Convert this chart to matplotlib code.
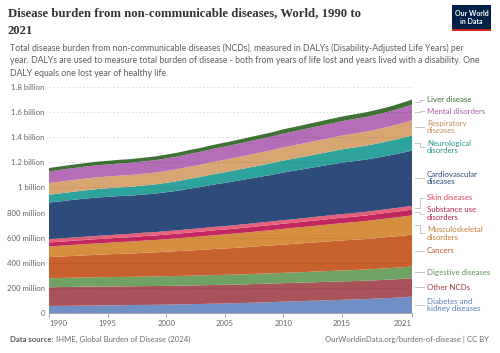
import matplotlib
matplotlib.use("Agg")
import matplotlib.pyplot as plt
from matplotlib.patches import Rectangle
import numpy as np

years = list(range(1990, 2022))

series_names = ["Diabetes and\nkidney diseases", "Other NCDs", "Digestive diseases", "Cancers",
                "Musculoskeletal\ndisorders", "Substance use\ndisorders", "Skin diseases",
                "Cardiovascular\ndiseases", "Neurological\ndisorders", "Respiratory\ndiseases",
                "Mental disorders", "Liver disease"]

# values in billions of DALYs
diabetes = [0.056,0.057,0.058,0.059,0.060,0.061,0.062,0.063,0.064,0.065,0.066,
            0.068,0.070,0.072,0.074,0.076,0.078,0.081,0.084,0.087,0.090,
            0.093,0.096,0.099,0.102,0.105,0.108,0.111,0.115,0.119,0.124,0.130]
other_ncds = [0.149,0.150,0.150,0.151,0.151,0.151,0.150,0.150,0.150,0.150,0.150,
              0.150,0.149,0.149,0.149,0.149,0.148,0.148,0.148,0.148,0.148,
              0.147,0.147,0.147,0.147,0.147,0.146,0.146,0.146,0.147,0.147,0.147]
digestive = [0.072,0.072,0.073,0.073,0.074,0.074,0.075,0.075,0.076,0.076,0.077,
             0.077,0.078,0.078,0.079,0.079,0.080,0.080,0.081,0.081,0.082,
             0.083,0.084,0.085,0.086,0.087,0.088,0.089,0.090,0.091,0.092,0.093]
cancers = [0.168,0.171,0.173,0.176,0.178,0.181,0.184,0.186,0.189,0.192,0.195,
           0.198,0.201,0.204,0.207,0.210,0.213,0.216,0.219,0.222,0.225,
           0.228,0.231,0.233,0.236,0.239,0.241,0.243,0.246,0.249,0.251,0.254]
musculoskeletal = [0.085,0.086,0.088,0.089,0.091,0.092,0.094,0.095,0.097,0.098,0.100,
                   0.102,0.105,0.107,0.110,0.112,0.115,0.117,0.120,0.122,0.125,
                   0.128,0.130,0.133,0.135,0.138,0.140,0.143,0.146,0.148,0.151,0.154]
substance = [0.032,0.032,0.033,0.033,0.034,0.034,0.035,0.035,0.036,0.036,0.037,
             0.037,0.038,0.038,0.039,0.039,0.039,0.040,0.040,0.041,0.041,
             0.041,0.042,0.042,0.043,0.043,0.044,0.044,0.045,0.045,0.046,0.046]
skin = [0.026,0.026,0.026,0.026,0.026,0.026,0.026,0.027,0.027,0.027,0.027,
        0.027,0.027,0.027,0.027,0.027,0.028,0.028,0.028,0.028,0.028,
        0.028,0.028,0.029,0.029,0.029,0.029,0.029,0.029,0.030,0.030,0.030]
cardiovascular = [0.292,0.296,0.300,0.303,0.305,0.306,0.305,0.304,0.304,0.306,0.310,
                  0.315,0.322,0.329,0.337,0.344,0.351,0.358,0.364,0.371,0.380,
                  0.386,0.392,0.398,0.404,0.409,0.413,0.416,0.420,0.425,0.432,0.440]
neurological = [0.062,0.063,0.064,0.066,0.067,0.068,0.069,0.070,0.072,0.073,0.075,
                0.077,0.079,0.081,0.083,0.085,0.087,0.089,0.091,0.093,0.095,
                0.097,0.099,0.101,0.103,0.106,0.108,0.110,0.112,0.115,0.117,0.120]
respiratory = [0.093,0.094,0.094,0.094,0.094,0.094,0.094,0.094,0.094,0.094,0.094,
               0.095,0.096,0.097,0.098,0.099,0.100,0.101,0.102,0.103,0.105,
               0.106,0.107,0.108,0.109,0.110,0.111,0.112,0.113,0.115,0.117,0.120]
mental = [0.093,0.094,0.094,0.095,0.096,0.096,0.097,0.098,0.098,0.099,0.100,
          0.101,0.102,0.103,0.104,0.105,0.106,0.107,0.108,0.109,0.110,
          0.111,0.112,0.113,0.114,0.115,0.116,0.117,0.118,0.119,0.123,0.126]
liver = [0.027,0.027,0.028,0.028,0.028,0.029,0.029,0.029,0.029,0.030,0.030,
         0.030,0.031,0.031,0.031,0.032,0.032,0.032,0.033,0.033,0.034,
         0.034,0.035,0.035,0.036,0.036,0.037,0.037,0.038,0.038,0.039,0.040]

y_ticks = [0, 0.2, 0.4, 0.6, 0.8, 1.0, 1.2, 1.4, 1.6, 1.8]
y_tick_labels = ["0", "200 million", "400 million", "600 million", "800 million",
                 "1 billion", "1.2 billion", "1.4 billion", "1.6 billion", "1.8 billion"]
x_ticks = [1990, 1995, 2000, 2005, 2010, 2015, 2021]

all_series = [diabetes, other_ncds, digestive, cancers, musculoskeletal, substance, skin,
              cardiovascular, neurological, respiratory, mental, liver]
fill_colors = ["#7090C5", "#A8535A", "#6FA264", "#C9612E", "#D68F3E", "#C2285F", "#E8607A",
               "#2F4B7B", "#2EA39B", "#D8A672", "#B46DB6", "#3E7133"]
text_colors = ["#5C7CB8", "#9A3B44", "#5F9458", "#B8552A", "#C57F2E", "#B5245C", "#D9455E",
               "#2A4A7A", "#20988F", "#C48E5A", "#A85DA8", "#3D6B35"]

W, H = 500, 353
fig = plt.figure(figsize=(W / 100, H / 100), dpi=100)
fig.patch.set_facecolor("white")

def fx(px):
    return px / W

def fy(py):
    return 1 - py / H

ax_left, ax_right, ax_top, ax_bottom = 49, 412, 87, 313
ax = fig.add_axes([fx(ax_left), fy(ax_bottom), fx(ax_right - ax_left), (ax_bottom - ax_top) / H])

ax.stackplot(years, *all_series, colors=fill_colors, linewidth=0)
ax.set_xlim(1990, 2021)
ax.set_ylim(0, 1.8)

for t in y_ticks[1:]:
    ax.axhline(t, color="black", alpha=0.16, lw=0.6, ls=(0, (2, 2.5)), zorder=3)
ax.set_yticks(y_ticks)
ax.set_yticklabels(y_tick_labels)
ax.set_xticks(x_ticks)
ax.set_xticklabels([str(x) for x in x_ticks])
ax.tick_params(axis="y", length=0, pad=3, labelsize=5.6, labelcolor="#666666")
ax.tick_params(axis="x", length=3, width=0.6, color="#999999", pad=2, labelsize=5.6,
               labelcolor="#666666")
for lab in ax.get_yticklabels() + ax.get_xticklabels():
    lab.set_fontfamily("Lato")
xl = ax.get_xticklabels()
xl[0].set_horizontalalignment("left")
xl[-1].set_horizontalalignment("right")
for s in ["top", "right", "left"]:
    ax.spines[s].set_visible(False)
ax.spines["bottom"].set_color("#999999")
ax.spines["bottom"].set_linewidth(0.6)

# right-side labels with simple collision avoidance
ppu = (ax_bottom - ax_top) / 1.8  # pixels per billion
ends = np.cumsum([s[-1] for s in all_series])
starts = np.concatenate([[0], ends[:-1]])
centers_px = [ax_bottom - (a + b) / 2 * ppu for a, b in zip(starts, ends)]
line_h = 8.3
heights = [line_h * (n.count("\n") + 1) for n in series_names]
gap = 3.2
order = sorted(range(len(series_names)), key=lambda i: centers_px[i])
pos = {i: centers_px[i] for i in order}
for _ in range(300):
    moved = False
    for k in range(len(order) - 1):
        a, b = order[k], order[k + 1]
        need = (heights[a] + heights[b]) / 2 + gap
        d = pos[b] - pos[a]
        if d < need - 1e-6:
            shift = (need - d) / 2
            pos[a] -= shift
            pos[b] += shift
            moved = True
    if not moved:
        break

x0, xm, x1, xt = 415, 419.5, 424, 427
for i, name in enumerate(series_names):
    cy, ly = centers_px[i], pos[i]
    if abs(cy - ly) < 1.0:
        fig.add_artist(plt.Line2D([fx(x0), fx(x1)], [fy(ly), fy(ly)], color="#bbbbbb", lw=0.6))
    else:
        fig.add_artist(plt.Line2D([fx(x0), fx(xm), fx(xm), fx(x1)],
                                  [fy(cy), fy(cy), fy(ly), fy(ly)], color="#bbbbbb", lw=0.6))
    fig.text(fx(xt), fy(ly), name, color=text_colors[i], fontsize=5.7, family="Lato",
             va="center", ha="left", linespacing=1.05)

# title
fig.text(fx(8), fy(13), "Disease burden from non-communicable diseases, World, 1990 to",
         fontsize=9.15, family="Liberation Serif", weight="bold", color="#333333",
         va="center", ha="left")
fig.text(fx(8), fy(30.5), "2021", fontsize=9.15, family="Liberation Serif", weight="bold",
         color="#333333", va="center", ha="left")
sub = ["Total disease burden from non-communicable diseases (NCDs), measured in DALYs (Disability-Adjusted Life Years) per",
       "year. DALYs are used to measure total burden of disease - both from years of life lost and years lived with a disability. One",
       "DALY equals one lost year of healthy life."]
for k, line in enumerate(sub):
    fig.text(fx(10), fy(48 + k * 12.8), line, fontsize=6.35, family="Lato", color="#5e5e5e",
             va="center", ha="left")

# logo
fig.add_artist(Rectangle((fx(452), fy(31)), fx(39), (31 - 5) / H, transform=fig.transFigure,
                         facecolor="#002147", edgecolor="none"))
fig.add_artist(Rectangle((fx(452), fy(31)), fx(39), 1.8 / H, transform=fig.transFigure,
                         facecolor="#CE261E", edgecolor="none"))
fig.text(fx(471.5), fy(17.5), "Our World\nin Data", color="white", fontsize=5.0,
         family="Lato", weight="bold", ha="center", va="center", linespacing=1.0)

# footer
fig.text(fx(10), fy(339), "Data source:", fontsize=5.6, family="Lato", weight="bold",
         color="#5b5b5b", va="center", ha="left")
fig.text(fx(56), fy(339), "IHME, Global Burden of Disease (2024)", fontsize=5.6, family="Lato",
         color="#6b6b6b", va="center", ha="left")
fig.text(fx(489), fy(339), "OurWorldinData.org/burden-of-disease | CC BY", fontsize=5.6,
         family="Lato", color="#6b6b6b", va="center", ha="right")

fig.savefig("out.png", dpi=100, facecolor="white")
